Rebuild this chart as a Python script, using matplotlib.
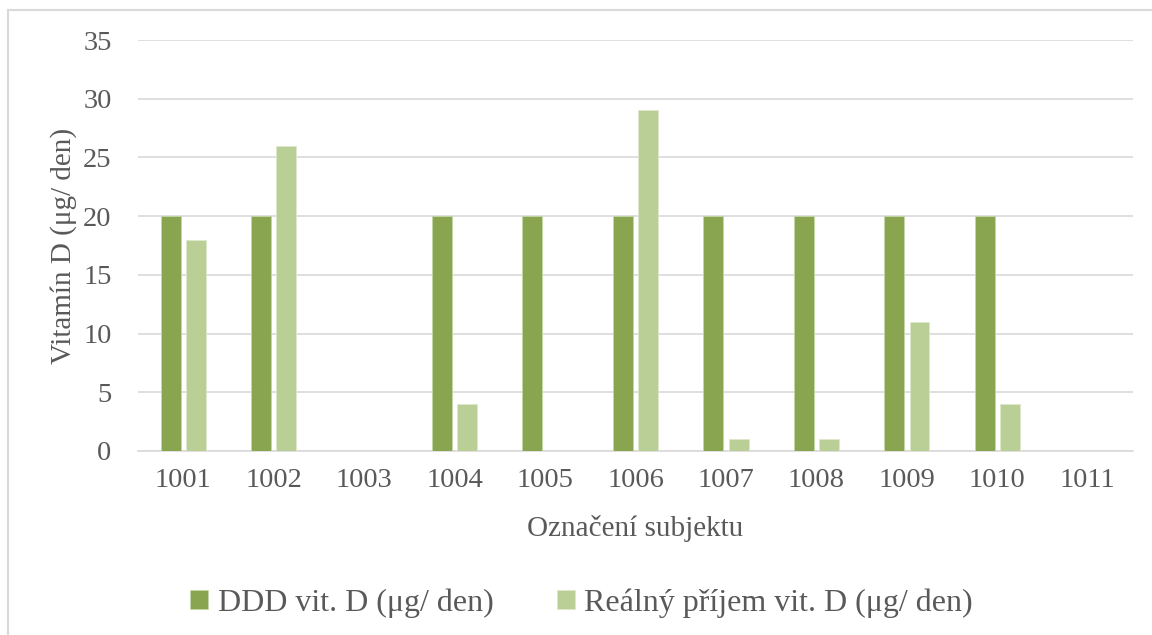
import numpy as np
import matplotlib
matplotlib.use("Agg")
import matplotlib.pyplot as plt
from matplotlib.patches import Rectangle

subjekty = ["1001", "1002", "1003", "1004", "1005", "1006", "1007", "1008", "1009", "1010", "1011"]
ddd = [20, 20, 0, 20, 20, 20, 20, 20, 20, 20, 0]
realny = [18, 26, 0, 4, 0, 29, 1, 1, 11, 4, 0]

c_dark = "#8AA54F"
c_light = "#BACF96"
grid_c = "#D9D9D9"
text_c = "#595959"

plt.rcParams["font.family"] = ["Liberation Serif", "DejaVu Serif"]

fig = plt.figure(figsize=(11.52, 6.35), dpi=100)
ax = fig.add_axes([0.1198, 0.2898, 0.8637, 0.6472])

# rámeček grafu
fig.patches.append(Rectangle((8 / 1152, -0.05), 1.2, 1 - 10 / 635 + 0.05,
                             transform=fig.transFigure, fill=False,
                             edgecolor=grid_c, linewidth=1.5))

x = np.arange(len(subjekty))
w = 0.22
off = 0.14
ax.bar(x - off, ddd, w, color=c_dark, edgecolor="#C5D6A8", linewidth=0.6,
       label="DDD vit. D (μg/ den)", zorder=3)
ax.bar(x + off, realny, w, color=c_light, edgecolor="#DDE8CC", linewidth=0.6,
       label="Reálný příjem vit. D (μg/ den)", zorder=3)

ax.set_xlim(-0.5, len(subjekty) - 0.5)
ax.set_ylim(0, 35)
ax.set_yticks(range(0, 36, 5))
ax.set_xticks(x)
ax.set_xticklabels(subjekty)
ax.grid(axis="y", color=grid_c, linewidth=1.2, zorder=0)
for s in ["top", "right", "left"]:
    ax.spines[s].set_visible(False)
ax.spines["bottom"].set_color(grid_c)
ax.spines["bottom"].set_linewidth(1.2)
ax.tick_params(axis="both", length=0, labelsize=20.5, colors=text_c)
ax.tick_params(axis="y", pad=19)
ax.tick_params(axis="x", pad=12)

ax.set_xlabel("Označení subjektu", fontsize=21, color=text_c, labelpad=16)
ax.set_ylabel("Vitamín D (μg/ den)", fontsize=21, color=text_c)
ax.yaxis.set_label_coords(-0.061, 0.5)

fig.legend(loc="center", bbox_to_anchor=(0.505, 0.05), ncol=2, frameon=False,
           fontsize=23, labelcolor=text_c, handlelength=0.55, handleheight=0.55,
           handletextpad=0.3, columnspacing=2.0)

fig.savefig("out.png", dpi=100)
